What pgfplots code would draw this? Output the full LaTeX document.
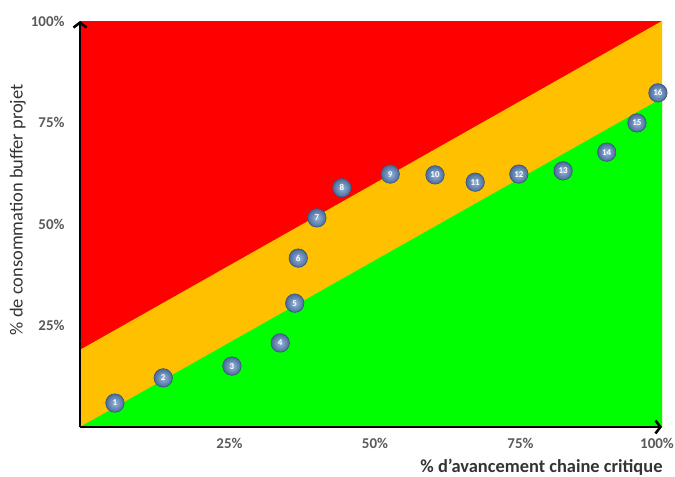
\documentclass[border=0pt]{standalone}
\usepackage{pgfplots}
\pgfplotsset{compat=1.18}
\usepackage{fontspec}
\setmainfont{Carlito}
\usetikzlibrary{arrows.meta}
\definecolor{zred}{HTML}{FF0000}
\definecolor{zorange}{HTML}{FFC000}
\definecolor{zgreen}{HTML}{00FF00}
\definecolor{ballin}{HTML}{9AB8DC}
\definecolor{ballout}{HTML}{48699A}
\begin{document}
\begin{tikzpicture}
\useasboundingbox (-80bp,-50bp) rectangle (595bp,427bp);
\begin{axis}[
  at={(0,0)}, anchor=south west,
  scale only axis, width=582bp, height=406bp,
  xmin=0, xmax=100, ymin=0, ymax=100,
  axis lines=left,
  axis line style={line width=2.5bp, black, -{Straight Barb[length=5bp,width=13bp]}},
  axis on top, clip=false,
  xtick={25,50,75}, xticklabels={25\%,50\%,75\%},
  extra x ticks={100}, extra x tick labels={100\%},
  extra x tick style={xticklabel style={xshift=-9bp}},
  ytick={25,50,75,100}, yticklabels={25\%,50\%,75\%,100\%},
  major tick length=0pt,
  tick label style={font=\bfseries\fontsize{15}{16}\selectfont, text=black!65},
  xticklabel style={yshift=-8bp, xshift=4bp},
  yticklabel style={xshift=-12bp},
  xlabel={\% d’avancement chaine critique},
  ylabel={\% de consommation buffer projet},
  xlabel style={font=\bfseries\fontsize{18.5}{20}\selectfont, text=black!80,
    at={(axis description cs:1.007,0)}, anchor=east, yshift=-40bp},
  ylabel style={font=\fontsize{18.5}{20}\selectfont, text=black!80,
    at={(axis description cs:-0.107,0.535)}, anchor=center},
]
\addplot[fill=zred, draw=none] coordinates {(0,0) (100,0) (100,100) (0,100)} -- cycle;
\addplot[fill=zorange, draw=none] coordinates {(0,0) (100,0) (100,100) (0,19)} -- cycle;
\addplot[fill=zgreen, draw=none] coordinates {(0,0) (100,0) (100,81)} -- cycle;
\addplot[only marks, mark=none, point meta=explicit symbolic, nodes near coords,
  every node near coord/.style={circle, shading=radial, inner color=ballin, outer color=ballout,
    draw=ballout!80!black, line width=0.6bp, inner sep=0pt, minimum size=18.5bp,
    anchor=center, font=\bfseries\fontsize{9}{9}\selectfont, text=white}]
  table[meta=lab] {
x y lab
6.0 5.9 1
14.3 12.1 2
26.1 15.0 3
34.4 20.7 4
36.9 30.5 5
37.5 41.6 6
40.7 51.5 7
45.0 58.9 8
53.3 62.3 9
61.0 62.1 10
67.9 60.3 11
75.4 62.3 12
83.0 63.1 13
90.5 67.7 14
95.7 74.9 15
99.3 82.3 16
};
\end{axis}
\end{tikzpicture}
\end{document}
